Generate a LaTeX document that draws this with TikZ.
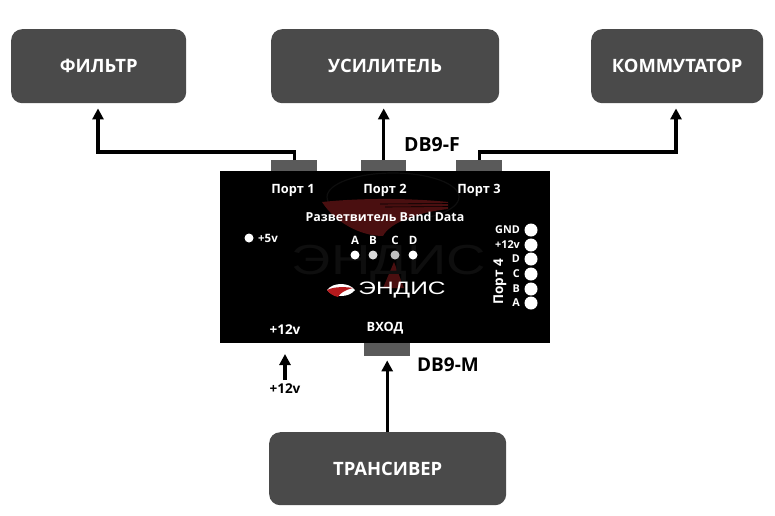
\documentclass[tikz,border=0pt]{standalone}
\usepackage{fontspec}
\setmainfont{Open Sans}[BoldFont={Open Sans Bold}]
\newfontfamily\logofont{Liberation Sans}
\usetikzlibrary{arrows.meta}
\definecolor{boxgray}{HTML}{4A4A4A}
\definecolor{portgray}{HTML}{5A5A5A}
\definecolor{logored}{HTML}{B5191C}
\definecolor{darkred}{HTML}{4A0F10}
\definecolor{wm}{HTML}{0E0E0E}
\tikzset{
  x=1pt,y=-1pt,
  blockbox/.style={fill=boxgray,rounded corners=11pt,inner sep=0,text=white,font=\bfseries\fontsize{18.4}{20}\selectfont,anchor=north west},
  portbox/.style={fill=portgray,inner sep=0,anchor=north west,minimum height=11pt,minimum width=46pt},
  wlabel/.style={text=white,font=\bfseries\fontsize{#1}{#1}\selectfont,inner sep=0},
  wlabel/.default=12.8,
  blabel/.style={text=black,font=\bfseries\fontsize{#1}{#1}\selectfont,inner sep=0},
  wire/.style={draw=black,line width=3.2pt,-{Triangle[length=11pt,width=11pt]}},
  led/.style={circle,fill=white,inner sep=0,minimum size=#1},
  led/.default=9pt
}
\begin{document}
\begin{tikzpicture}
\useasboundingbox (0,0) rectangle (775,515);
\fill[white] (0,0) rectangle (775,515);
% blocks
\node[blockbox,minimum width=175pt,minimum height=74pt] (filt) at (11,29) {ФИЛЬТР};
\node[blockbox,minimum width=228pt,minimum height=74pt] (amp) at (271,29) {УСИЛИТЕЛЬ};
\node[blockbox,minimum width=172pt,minimum height=74pt] (comm) at (591,29) {КОММУТАТОР};
\node[blockbox,minimum width=237pt,minimum height=73pt] (trx) at (269,432) {ТРАНСИВЕР};
% device
\node[fill=black,inner sep=0,anchor=north west,minimum width=330pt,minimum height=172pt] (dev) at (220,171) {};
\node[portbox] (p1) at (271,160) {};
\node[portbox,minimum width=45pt] (p2) at (361,160) {};
\node[portbox] (p3) at (456,160) {};
\node[portbox,minimum height=13pt] (pin) at (364,343) {};
% watermark
\draw[wm,line width=1.2pt] (393,197) ellipse (66 and 24);
\fill[darkred] (322,202) .. controls (370,197) and (420,199) .. (448,202) -- (448,209)
  .. controls (420,212) and (390,222) .. (383,236) .. controls (360,236) and (335,222) .. (322,202) -- cycle;
\draw[black,line width=0.6pt] (380,204) -- (448,203.5) (385,207) -- (448,206.5);
\fill[darkred] (394,262) -- (404,288) -- (383,288) -- cycle;
\node[text=wm,font=\logofont\fontsize{42}{42}\selectfont,inner sep=0,xscale=1.3] (wmtext) at (389,264) {ЭНДИС};
% connectors
\coordinate (fa) at (98,152);
\coordinate (ca) at (676,152);
\coordinate (v12a) at (285,380);
\coordinate (v12b) at (285,354);
\draw[wire,shorten >=5pt] (p1.north) -- (p1.north |- fa) -- (fa) -- (filt.south -| fa);
\draw[wire,shorten >=5pt] (p2.north) -- (amp.south -| p2.north);
\draw[wire,shorten >=5pt] (p3.north) -- (p3.north |- ca) -- (ca) -- (comm.south -| ca);
\draw[wire,shorten >=4pt] (trx.north -| pin.south) -- (pin.south);
\draw[wire] (v12a) -- (v12b);
% port labels
\node[wlabel] (l1) at (293,190) {Порт 1};
\node[wlabel] (l2) at (385,190) {Порт 2};
\node[wlabel] (l3) at (479,190) {Порт 3};
\node[wlabel=12.4] (title) at (385,217) {Разветвитель Band Data};
\node[wlabel=11.5] (l5) at (268,238) {+5v};
\node[led] (d5) at (249,238) {};
\node[wlabel=11.5] (lA) at (355,240) {A};
\node[wlabel=11.5] (lB) at (373,240) {B};
\node[wlabel=11.5] (lC) at (395,240) {C};
\node[wlabel=11.5] (lD) at (413,240) {D};
\node[led] (a) at (355,255) {};
\node[led,fill=white!85!black] (b) at (373,255) {};
\node[led,fill=white!75!black] (c) at (395,255) {};
\node[led] (d) at (413,255) {};
% port 4
\node[wlabel=10.8,anchor=east] (g1) at (520,230) {GND};
\node[wlabel=10.8,anchor=east] (g2) at (520,245) {+12v};
\node[wlabel=10.8,anchor=east] (g3) at (520,259) {D};
\node[wlabel=10.8,anchor=east] (g4) at (520,274) {C};
\node[wlabel=10.8,anchor=east] (g5) at (520,289) {B};
\node[wlabel=10.8,anchor=east] (g6) at (520,303) {A};
\node[led=13pt] (k1) at (531,230) {};
\node[led=13pt] (k2) at (531,245) {};
\node[led=13pt] (k3) at (531,259) {};
\node[led=13pt] (k4) at (531,274) {};
\node[led=13pt] (k5) at (531,289) {};
\node[led=13pt] (k6) at (531,303) {};
\node[wlabel=13.5,rotate=90] (p4) at (500,282) {Порт 4};
% logo
\fill[white] (327,290) .. controls (333,282) and (349,282) .. (355,290) .. controls (349,298) and (333,298) .. (327,290) -- cycle;
\fill[logored] (327,290) .. controls (335,286) and (347,287) .. (353,288) .. controls (345,290) and (340,293) .. (338,297) .. controls (333,296) and (329,293) .. (327,290) -- cycle;
\node[text=white,font=\logofont\fontsize{18}{18}\selectfont,inner sep=0,xscale=1.36] (logo) at (402,290) {ЭНДИС};
\node[wlabel] (vh) at (385,328) {ВХОД};
\node[wlabel=13.5] (v12) at (285,330) {+12v};
\node[blabel=13.5] (v12out) at (285,389) {+12v};
\node[blabel=19.5] (dbf) at (432,145) {DB9-F};
\node[blabel=19] (dbm) at (448,365) {DB9-M};
\end{tikzpicture}
\end{document}
